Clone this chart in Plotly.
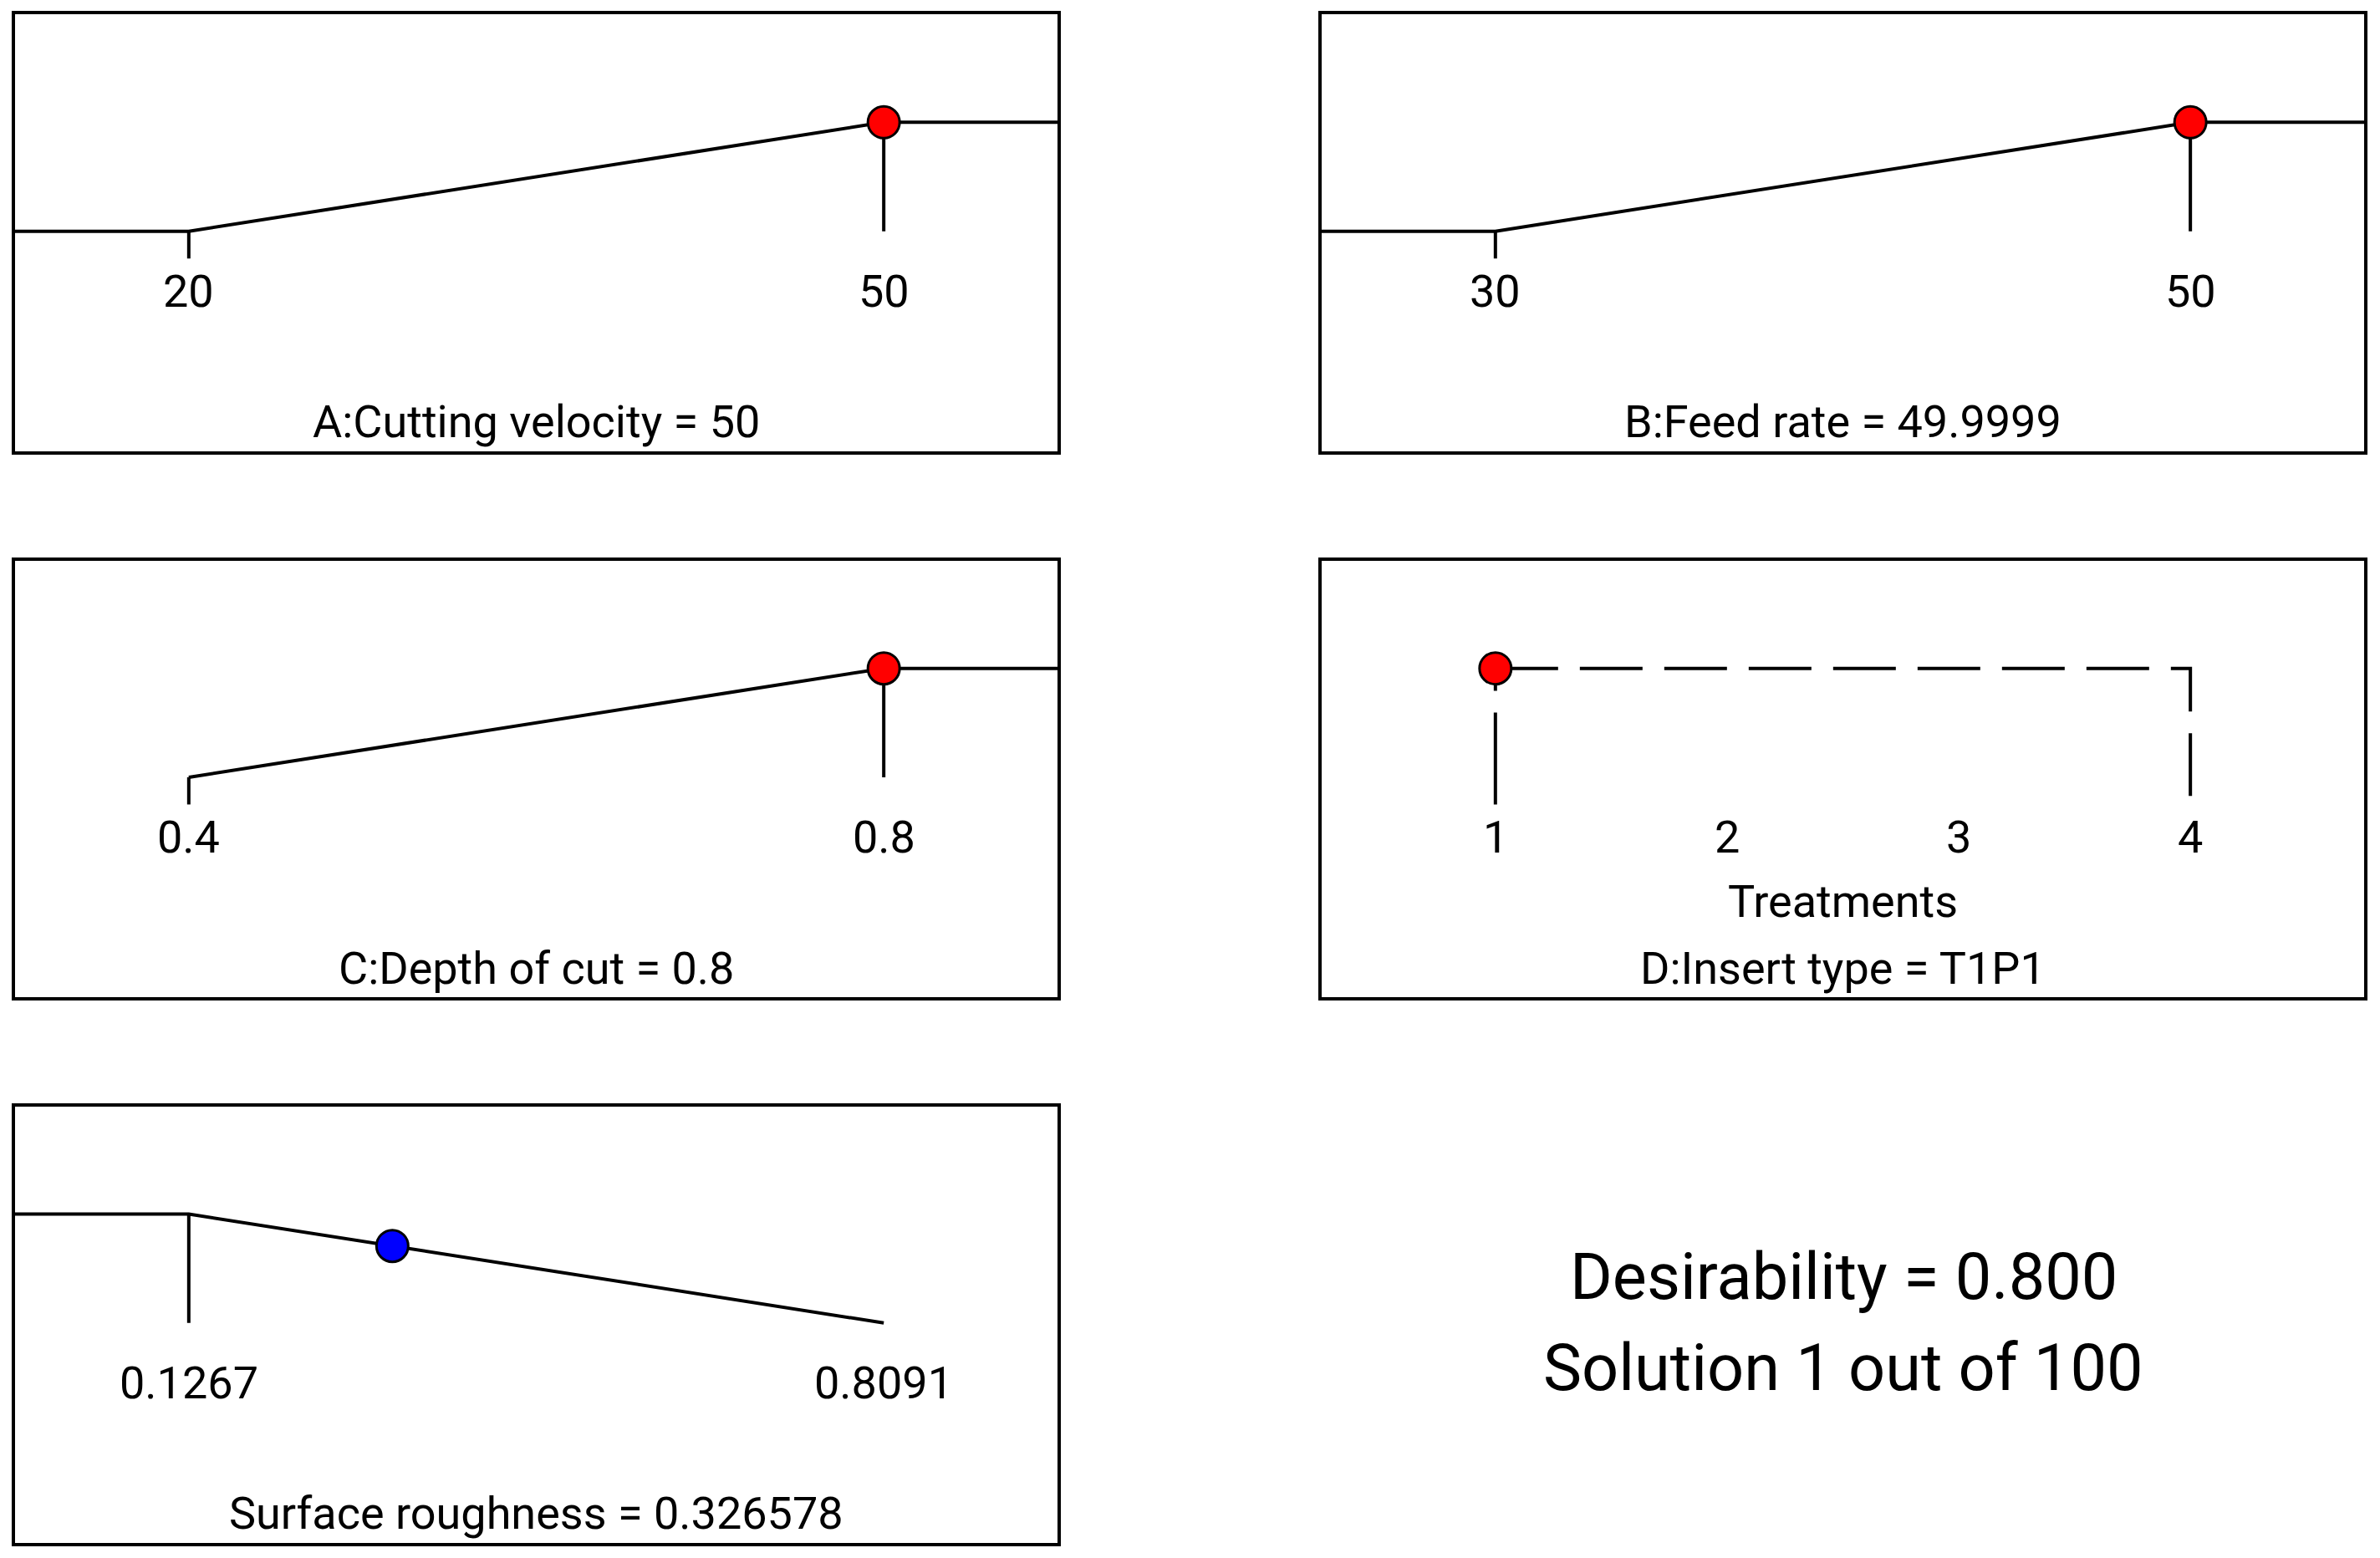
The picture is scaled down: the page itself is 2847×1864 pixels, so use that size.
import plotly.graph_objects as go

# numeric factors (ramp goal: maximize)
factor_names = ["A:Cutting velocity", "B:Feed rate", "C:Depth of cut"]
factor_low = [20, 30, 0.4]
factor_high = [50, 50, 0.8]
factor_low_text = ["20", "30", "0.4"]
factor_high_text = ["50", "50", "0.8"]
factor_setting = [50, 49.9999, 0.8]
factor_setting_text = ["50", "49.9999", "0.8"]
factor_desirability = [1.0, 1.0, 1.0]
factor_left_flat = [True, True, False]

# categoric factor
insert_levels = [1, 2, 3, 4]
insert_setting = 1
insert_desirability = 1.0
insert_setting_text = "T1P1"

# response (goal: minimize)
resp_name = "Surface roughness"
resp_low = 0.1267
resp_high = 0.8091
resp_low_text = "0.1267"
resp_high_text = "0.8091"
resp_value = 0.326578
resp_value_text = "0.326578"
resp_desirability = 0.707

overall_desirability = "0.800"
solution_text = "Solution 1 out of 100"

FONT = "Roboto, 'Open Sans', sans-serif"
LW = 4
DROP = 0.25
Y_RANGE = [-2.02, 1.99]

# the page body has an 8px margin, so the figure is 16px smaller than the window
W, H, OFF = 2831, 1848, 8


def px(xa):
    return (xa - OFF) / W


def py(ya):
    return 1 - (ya - OFF) / H


col_x = [[px(18), px(1265)], [px(1581), px(2828)]]
row_y = [[py(540), py(17.3)], [py(1193), py(670.7)], [py(1846), py(1323.5)]]
panels = [(0, 0), (0, 1), (1, 0), (1, 1), (2, 0)]

fig = go.Figure()
layout = dict(
    width=W, height=H, margin=dict(l=0, r=0, t=0, b=0),
    paper_bgcolor="white", plot_bgcolor="white", showlegend=False,
    font=dict(family=FONT, color="black", size=54),
)
annotations = []


def pad_range(lo, hi):
    d = (hi - lo) / 4
    return [lo - d, hi + d]


for i, (r, c) in enumerate(panels):
    n = "" if i == 0 else str(i + 1)
    layout["xaxis" + n] = dict(
        domain=col_x[c], anchor="y" + n, showgrid=False, zeroline=False,
        showticklabels=False, ticks="", showline=True, mirror=True,
        linecolor="black", linewidth=LW,
    )
    layout["yaxis" + n] = dict(
        domain=row_y[r], anchor="x" + n, range=Y_RANGE, showgrid=False,
        zeroline=False, showticklabels=False, ticks="", showline=True,
        mirror=True, linecolor="black", linewidth=LW,
    )


def line(xs, ys, ax, dash="solid"):
    fig.add_trace(go.Scatter(x=xs, y=ys, mode="lines", xaxis="x" + ax, yaxis="y" + ax,
                             line=dict(color="black", width=LW, dash=dash),
                             hoverinfo="skip", cliponaxis=False))


def dot(x, y, ax, color):
    fig.add_trace(go.Scatter(x=[x], y=[y], mode="markers", xaxis="x" + ax, yaxis="y" + ax,
                             marker=dict(size=38, color=color, line=dict(color="black", width=3)),
                             cliponaxis=False))


def text(t, x, ax, ydom, data_x=True):
    annotations.append(dict(text=t, x=x, y=ydom,
                            xref=("x" + ax) if data_x else ("x" + ax + " domain"),
                            yref="y" + ax + " domain", showarrow=False, xanchor="center",
                            yanchor="middle"))


TICK_Y = 0.3667
TITLE_Y = 0.067

# numeric factor panels
for k in range(3):
    ax = "" if k == 0 else str(k + 1)
    lo, hi = factor_low[k], factor_high[k]
    rng = pad_range(lo, hi)
    layout["xaxis" + ax]["range"] = rng
    if factor_left_flat[k]:
        line([rng[0], lo, hi, rng[1]], [0, 0, 1, 1], ax)
    else:
        line([lo, hi, rng[1]], [0, 1, 1], ax)
    line([lo, lo], [0, -DROP], ax)
    line([factor_setting[k], factor_setting[k]], [factor_desirability[k], 0], ax)
    dot(factor_setting[k], factor_desirability[k], ax, "#FF0000")
    text(factor_low_text[k], lo, ax, TICK_Y)
    text(factor_high_text[k], hi, ax, TICK_Y)
    text(f"{factor_names[k]} = {factor_setting_text[k]}", 0.5, ax, TITLE_Y, data_x=False)

# categoric panel D
ax = "4"
layout["xaxis4"]["range"] = pad_range(insert_levels[0], insert_levels[-1])
line([insert_levels[0], insert_levels[-1], insert_levels[-1]],
     [insert_desirability, insert_desirability, -DROP], ax, dash="75px,26px")
line([insert_levels[0], insert_levels[0]], [-DROP, insert_desirability], ax, dash="110px,26px")
dot(insert_setting, insert_desirability, ax, "#FF0000")
for lv in insert_levels:
    text(str(lv), lv, ax, TICK_Y)
text("Treatments", 0.5, ax, 0.220, data_x=False)
text(f"D:Insert type = {insert_setting_text}", 0.5, ax, TITLE_Y, data_x=False)

# response panel E
ax = "5"
rng = pad_range(resp_low, resp_high)
layout["xaxis5"]["range"] = rng
line([rng[0], resp_low, resp_high], [1, 1, 0], ax)
line([resp_low, resp_low], [1, 0], ax)
dot(resp_value, resp_desirability, ax, "#0000FF")
text(resp_low_text, resp_low, ax, TICK_Y)
text(resp_high_text, resp_high, ax, TICK_Y)
text(f"{resp_name} = {resp_value_text}", 0.5, ax, TITLE_Y, data_x=False)

# summary text
for t, ya in [(f"Desirability = {overall_desirability}", 1527), (solution_text, 1636)]:
    annotations.append(dict(text=t, x=px(2205), y=py(ya), xref="paper", yref="paper",
                            showarrow=False, xanchor="center", yanchor="middle",
                            font=dict(size=77.5)))

layout["annotations"] = annotations
fig.update_layout(**layout)
fig.write_html("out.html")
